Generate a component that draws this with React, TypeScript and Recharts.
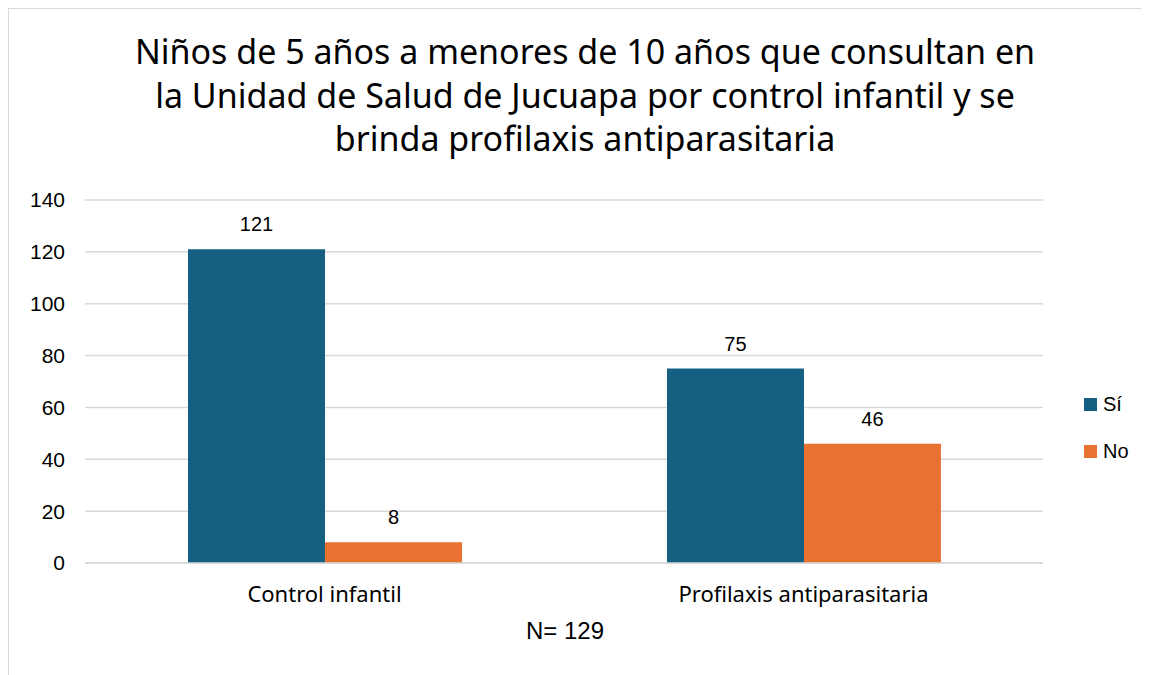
import React from "react";
import { BarChart, Bar, XAxis, YAxis, CartesianGrid, LabelList, Legend } from "recharts";

const categories = ["Control infantil", "Profilaxis antiparasitaria"];
const siValues = [121, 75];
const noValues = [8, 46];
const yTicks = [0, 20, 40, 60, 80, 100, 120, 140];
const seriesNames = ["Sí", "No"];
const colors = ["#156082", "#E97132"];
const titleLines = [
  "Niños de 5 años a menores de 10 años que consultan en",
  "la Unidad de Salud de Jucuapa por control infantil y se",
  "brinda profilaxis antiparasitaria",
];
const footnote = "N= 129";

const data = categories.map((c, i) => ({ name: c, si: siValues[i], no: noValues[i] }));

const numFont = "'Liberation Sans', Arial, sans-serif";
const textFont = "'Noto Sans', 'Open Sans', sans-serif";

const LegendContent = () => (
  <div style={{ fontFamily: numFont, fontSize: 20, color: "#000" }}>
    {seriesNames.map((n, i) => (
      <div key={n} style={{ display: "flex", alignItems: "center", height: 47 }}>
        <span style={{ display: "inline-block", width: 13, height: 13, background: colors[i], marginRight: 6 }} />
        <span>{n}</span>
      </div>
    ))}
  </div>
);

export default function App() {
  return (
    <div
      style={{
        position: "relative",
        width: 1150,
        height: 680,
        border: "1px solid #d9d9d9",
        boxSizing: "border-box",
        background: "#fff",
      }}
    >
      <div
        style={{
          position: "absolute",
          left: 0,
          top: 21,
          width: 1152,
          textAlign: "center",
          fontFamily: textFont,
          fontSize: 34,
          lineHeight: "43.5px",
          color: "#000",
        }}
      >
        {titleLines.map((l) => (
          <div key={l}>{l}</div>
        ))}
      </div>
      <div
        style={{
          position: "absolute",
          left: 456,
          top: 608,
          width: 200,
          textAlign: "center",
          fontFamily: numFont,
          fontSize: 24,
          color: "#000",
        }}
      >
        {footnote}
      </div>
      <BarChart
        width={1141}
        height={667}
        data={data}
        margin={{ top: 191, right: 107, left: 0, bottom: 73 }}
        barCategoryGap="21.5%"
        barGap={0}
      >
        <CartesianGrid vertical={false} stroke="#d9d9d9" strokeWidth={1.5} />
        <XAxis
          dataKey="name"
          axisLine={{ stroke: "#d9d9d9", strokeWidth: 1.5 }}
          tickLine={false}
          tickMargin={17}
          height={40}
          tick={{ fontFamily: textFont, fontSize: 22, fill: "#000" }}
        />
        <YAxis
          width={76}
          domain={[0, 140]}
          ticks={yTicks}
          axisLine={false}
          tickLine={false}
          tickMargin={14}
          tick={{ fontFamily: numFont, fontSize: 21, fill: "#000" }}
        />
        <Legend
          layout="horizontal"
          verticalAlign="middle"
          content={<LegendContent />}
          wrapperStyle={{ position: "absolute", left: 1075, top: 372, width: 60 }}
        />
        <Bar dataKey="si" name={seriesNames[0]} fill={colors[0]} isAnimationActive={false}>
          <LabelList dataKey="si" position="top" offset={18} style={{ fontFamily: numFont, fontSize: 20, fill: "#000" }} />
        </Bar>
        <Bar dataKey="no" name={seriesNames[1]} fill={colors[1]} isAnimationActive={false}>
          <LabelList dataKey="no" position="top" offset={18} style={{ fontFamily: numFont, fontSize: 20, fill: "#000" }} />
        </Bar>
      </BarChart>
    </div>
  );
}
